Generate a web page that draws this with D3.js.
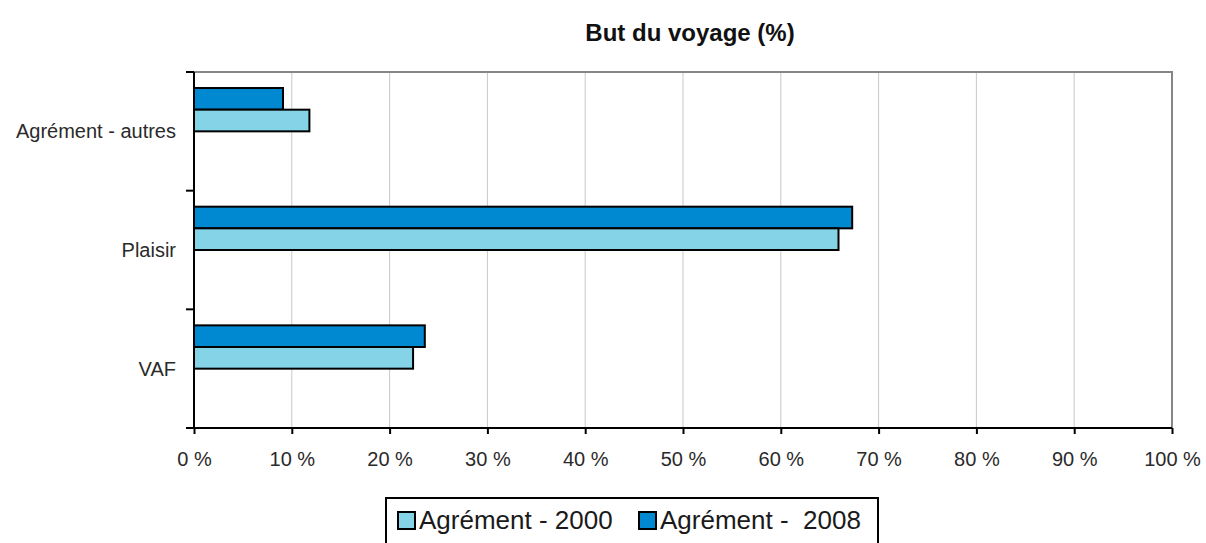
<!DOCTYPE html>
<html>
<head>
<meta charset="utf-8">
<script src="https://cdn.jsdelivr.net/npm/d3@7"></script>
<style>
  body { margin: 0; background: #fff; }
  svg { font-family: "Liberation Sans", Arial, sans-serif; }
</style>
</head>
<body>
<svg id="chart" width="1206" height="543"></svg>
<script>
// Données du graphique
const categories = ["Agrément - autres", "Plaisir", "VAF"];
const series = ["Agrément - 2008", "Agrément - 2000"];
const legendLabels = ["Agrément - 2000", "Agrément -  2008"];
const values2000 = [11.8, 65.9, 22.4];
const values2008 = [9.1, 67.3, 23.6];
const xTicks = [0, 10, 20, 30, 40, 50, 60, 70, 80, 90, 100];

const colors = { "Agrément - 2000": "#85d3e6", "Agrément - 2008": "#0088d1" };

const svg = d3.select("#chart");
const margin = { top: 72, right: 34, bottom: 115, left: 194 };
const W = +svg.attr("width");
const H = +svg.attr("height");

// Titre
svg.append("text")
  .attr("x", 690).attr("y", 41)
  .attr("text-anchor", "middle")
  .attr("font-size", 24).attr("font-weight", "bold")
  .attr("fill", "#111")
  .text("But du voyage (%)");

const x = d3.scaleLinear().domain([0, 100]).range([margin.left, W - margin.right]);
const y = d3.scaleBand().domain(categories).range([margin.top, H - margin.bottom]);
const bw = y.bandwidth();
// Les deux barres occupent le haut de chaque catégorie
const ySub = d3.scaleBand().domain(series).range([bw * 0.135, bw * 0.5]);

// Grille verticale
svg.append("g")
  .selectAll("line")
  .data(xTicks.slice(1, -1))
  .join("line")
  .attr("x1", d => x(d)).attr("x2", d => x(d))
  .attr("y1", margin.top).attr("y2", H - margin.bottom)
  .attr("stroke", "#c8c8c8").attr("stroke-width", 1);

// Bordure haut et droite
svg.append("path")
  .attr("d", `M${x(0)},${margin.top}H${x(100)}V${H - margin.bottom}`)
  .attr("fill", "none").attr("stroke", "#868686").attr("stroke-width", 2);

// Barres
const rows = categories.map((c, i) => ({
  cat: c,
  vals: [
    { s: "Agrément - 2008", v: values2008[i] },
    { s: "Agrément - 2000", v: values2000[i] }
  ]
}));

svg.append("g")
  .selectAll("g")
  .data(rows)
  .join("g")
  .attr("transform", d => `translate(0,${y(d.cat)})`)
  .selectAll("rect")
  .data(d => d.vals)
  .join("rect")
  .attr("x", x(0))
  .attr("y", d => ySub(d.s))
  .attr("width", d => x(d.v) - x(0))
  .attr("height", ySub.bandwidth())
  .attr("fill", d => colors[d.s])
  .attr("stroke", "#000").attr("stroke-width", 2);

// Axe des pourcentages
const xAxis = svg.append("g")
  .attr("transform", `translate(0,${H - margin.bottom})`)
  .call(d3.axisBottom(x).tickValues(xTicks).tickSize(6).tickPadding(18)
    .tickFormat(d => d + " %"));
xAxis.select(".domain").attr("d", `M${x(0) - 8},0H${x(100)}`).attr("stroke-width", 2);
xAxis.selectAll(".tick line").attr("stroke-width", 2);
xAxis.selectAll("text").attr("font-size", 20).attr("fill", "#2a2a2a")
  .attr("font-family", "Liberation Sans, Arial, sans-serif");

// Axe des catégories
const yAxis = svg.append("g")
  .attr("transform", `translate(${margin.left},0)`);
yAxis.append("line")
  .attr("y1", margin.top).attr("y2", H - margin.bottom)
  .attr("stroke", "#000").attr("stroke-width", 2);
const bounds = categories.map(c => y(c)).concat([H - margin.bottom]);
yAxis.selectAll(".tk")
  .data(bounds)
  .join("line")
  .attr("class", "tk")
  .attr("x1", -8).attr("x2", 0)
  .attr("y1", d => d).attr("y2", d => d)
  .attr("stroke", "#000").attr("stroke-width", 2);
yAxis.selectAll("text")
  .data(categories)
  .join("text")
  .attr("x", -18)
  .attr("y", d => y(d) + bw / 2)
  .attr("dy", "0.35em")
  .attr("text-anchor", "end")
  .attr("font-size", 20).attr("fill", "#2a2a2a")
  .text(d => d);

// Légende
const leg = svg.append("g");
leg.append("rect")
  .attr("x", 386).attr("y", 498).attr("width", 492).attr("height", 60)
  .attr("fill", "#fff").attr("stroke", "#000").attr("stroke-width", 2);
const legX = [398, 639];
const legSeries = ["Agrément - 2000", "Agrément - 2008"];
legSeries.forEach((s, i) => {
  leg.append("rect")
    .attr("x", legX[i]).attr("y", 512).attr("width", 17).attr("height", 17)
    .attr("fill", colors[s]).attr("stroke", "#000").attr("stroke-width", 2);
  leg.append("text")
    .attr("x", legX[i] + 21).attr("y", 529)
    .attr("font-size", 26).attr("fill", "#1a1a1a")
    .style("white-space", "pre")
    .text(legendLabels[i]);
});
</script>
</body>
</html>
